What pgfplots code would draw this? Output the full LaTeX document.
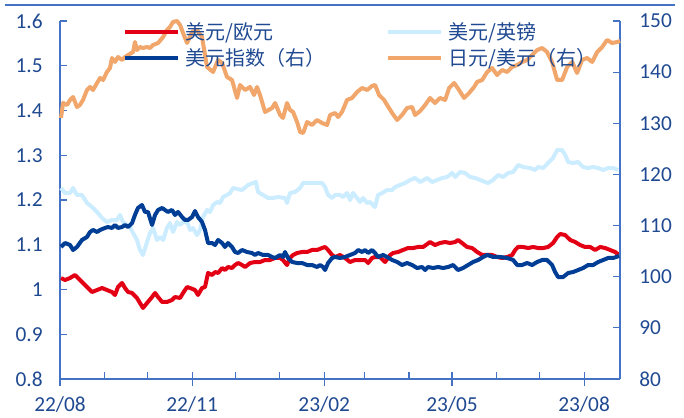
\documentclass[border=0pt]{standalone}
\usepackage{pgfplots}
\pgfplotsset{compat=1.18}
\usepackage{pgfplotstable}
\usepackage{fontspec}
\setmainfont{Carlito}
\newfontfamily\cjk{Noto Sans CJK SC}
\definecolor{axblue}{RGB}{68,114,196}
\definecolor{lblblue}{RGB}{31,73,145}
\definecolor{eurc}{RGB}{228,0,20}
\definecolor{dxyc}{RGB}{0,62,150}
\definecolor{gbpc}{RGB}{204,236,255}
\definecolor{jpyc}{RGB}{241,166,108}

% x = days since 2022-08-01
\pgfplotstableread{
d v
0.7 1.0257
3.5 1.0212
7.0 1.0257
10.4 1.0324
12.5 1.0257
15.3 1.0168
18.8 1.0056
22.3 0.9944
25.8 0.9989
29.3 1.0033
32.7 0.9989
36.2 0.9944
38.3 0.9877
40.4 1.0056
43.2 1.0145
45.3 1.0033
47.4 0.9944
50.2 0.9922
53.6 0.9810
55.7 0.9698
57.8 0.9587
60.6 0.9698
64.1 0.9832
66.2 0.9922
68.3 0.9832
71.1 0.9721
74.5 0.9721
78.0 0.9765
80.1 0.9832
83.6 0.9810
85.7 0.9922
88.5 1.0056
90.6 1.0033
94.0 0.9989
96.1 0.9877
98.9 1.0033
101.0 1.0056
103.1 1.0369
105.9 1.0324
108.0 1.0391
110.1 1.0369
112.9 1.0480
114.9 1.0436
117.0 1.0503
119.8 1.0480
121.9 1.0547
124.0 1.0592
126.8 1.0547
128.9 1.0503
132.4 1.0592
135.8 1.0614
139.3 1.0614
142.8 1.0659
146.3 1.0659
149.8 1.0704
153.3 1.0704
155.3 1.0659
158.1 1.0547
160.2 1.0704
162.3 1.0771
165.1 1.0816
168.6 1.0838
172.1 1.0838
175.5 1.0883
179.0 1.0883
182.5 1.0927
184.6 1.0950
186.7 1.0883
189.5 1.0771
191.6 1.0726
195.0 1.0771
198.5 1.0704
202.0 1.0614
205.5 1.0659
209.0 1.0659
212.5 1.0659
214.6 1.0592
217.3 1.0704
219.4 1.0726
222.9 1.0726
226.4 1.0614
229.9 1.0771
232.0 1.0816
235.4 1.0838
238.9 1.0883
242.4 1.0927
245.9 1.0927
249.4 1.0950
252.9 1.0950
257.7 1.1061
261.2 1.0994
264.7 1.1039
268.2 1.1061
271.7 1.1039
275.2 1.1061
277.2 1.1106
280.0 1.1039
283.5 1.0950
287.0 1.0927
290.5 1.0838
294.0 1.0771
297.5 1.0771
300.9 1.0771
304.4 1.0726
307.9 1.0704
311.4 1.0726
314.9 1.0771
317.0 1.0883
319.0 1.0950
322.5 1.0950
326.0 1.0927
329.5 1.0950
333.0 1.0927
336.5 1.0927
339.9 1.0950
343.4 1.1039
346.2 1.1173
348.3 1.1240
351.8 1.1218
355.3 1.1106
358.8 1.1061
362.2 1.0994
365.7 1.0950
369.2 1.0950
372.7 1.0883
376.2 1.0950
379.7 1.0927
383.1 1.0883
386.6 1.0838
389.4 1.0771
}\eur

\pgfplotstableread{
d v
0.7 1.2268
3.5 1.2156
7.0 1.2156
9.1 1.2268
11.8 1.2112
15.3 1.2112
18.8 1.1933
22.3 1.1844
25.8 1.1732
29.3 1.1598
32.7 1.1508
36.2 1.1553
39.7 1.1553
41.8 1.1665
43.9 1.1508
46.7 1.1441
48.8 1.1397
50.9 1.1263
53.6 1.1106
55.7 1.0883
57.8 1.0771
60.6 1.1061
62.7 1.1263
64.8 1.1374
67.6 1.1106
69.7 1.1173
71.8 1.1106
74.5 1.1374
76.6 1.1486
78.7 1.1285
81.5 1.1508
83.6 1.1441
85.7 1.1508
88.5 1.1508
90.6 1.1330
92.6 1.1374
95.4 1.1218
97.5 1.1330
99.6 1.1620
102.4 1.1777
104.5 1.1732
106.6 1.1888
109.4 1.1955
111.5 1.1933
113.5 1.2067
116.3 1.2112
118.4 1.2156
120.5 1.2268
123.3 1.2246
126.8 1.2223
131.0 1.2335
134.5 1.2380
136.5 1.2402
137.9 1.2179
141.4 1.2112
144.9 1.2045
148.4 1.2045
151.9 1.2067
156.7 1.2045
158.1 1.1933
160.2 1.2156
163.7 1.2179
167.2 1.2268
169.3 1.2380
172.8 1.2380
177.6 1.2380
182.5 1.2380
184.6 1.2290
186.7 1.2112
189.5 1.2045
191.6 1.2112
195.0 1.2112
197.1 1.2067
199.9 1.2156
202.0 1.2000
204.1 1.2156
206.9 1.2045
209.0 1.1955
211.1 1.2045
213.9 1.1933
215.9 1.1955
219.4 1.1844
221.5 1.2112
224.3 1.2156
227.8 1.2223
231.3 1.2223
233.4 1.2290
236.8 1.2335
240.3 1.2380
243.8 1.2447
247.3 1.2492
250.8 1.2402
255.7 1.2492
259.1 1.2402
262.6 1.2447
266.1 1.2492
269.6 1.2514
273.1 1.2603
275.2 1.2514
278.6 1.2626
282.1 1.2603
285.6 1.2514
289.1 1.2492
292.6 1.2447
296.1 1.2402
298.1 1.2380
301.6 1.2447
305.1 1.2559
308.6 1.2514
312.1 1.2603
315.6 1.2626
319.0 1.2782
322.5 1.2737
327.4 1.2715
330.9 1.2670
333.0 1.2737
336.5 1.2715
339.9 1.2827
343.4 1.2939
346.2 1.3117
349.7 1.3117
351.8 1.3006
353.9 1.2849
357.4 1.2827
360.8 1.2849
364.3 1.2737
367.8 1.2715
371.3 1.2737
374.8 1.2715
378.3 1.2670
381.7 1.2715
385.2 1.2715
388.7 1.2670
}\gbp

\pgfplotstableread{
d v
0.7 105.81
3.5 106.59
7.0 106.20
9.1 105.22
11.8 105.81
15.3 107.18
18.8 107.77
20.9 108.74
23.0 109.14
25.8 108.74
27.9 109.14
31.3 109.53
33.4 109.72
36.2 109.53
38.3 110.11
40.4 109.53
43.2 109.72
45.3 110.11
47.4 109.72
50.2 110.50
52.2 112.07
54.3 113.44
57.1 114.02
59.2 112.66
61.3 112.66
64.1 110.11
66.2 112.07
68.3 113.05
71.1 113.44
73.1 113.05
75.2 112.66
78.0 113.05
80.1 112.07
82.2 112.66
85.0 111.68
87.1 111.09
89.2 111.09
92.0 111.68
94.0 112.85
96.1 111.68
98.9 110.70
101.0 109.14
103.1 106.59
105.9 106.59
108.0 106.20
110.1 107.18
112.9 106.59
114.9 105.81
117.0 106.59
119.8 105.81
121.9 104.83
124.0 104.64
126.8 105.22
130.3 104.83
133.7 104.64
135.8 104.25
137.9 104.64
141.4 104.25
144.9 104.25
147.7 103.86
149.8 103.66
153.3 104.25
155.3 103.86
156.7 104.83
158.8 103.66
161.6 102.88
165.1 102.68
168.6 102.68
172.1 102.29
175.5 102.29
179.0 101.90
181.1 102.29
183.2 101.90
184.6 101.31
186.7 102.68
189.5 103.66
191.6 103.86
195.0 103.66
198.5 103.86
202.0 104.25
205.5 104.64
207.6 105.22
210.4 104.83
212.5 105.22
214.6 104.64
217.3 105.22
219.4 104.64
221.5 103.86
225.0 104.25
227.8 103.86
231.3 103.27
234.8 102.88
238.2 102.29
241.7 102.68
245.2 102.29
248.7 101.70
252.2 101.90
254.3 101.31
256.3 101.90
259.8 101.70
263.3 101.90
266.8 101.70
270.3 101.90
273.8 102.29
277.2 101.31
280.7 101.70
284.2 102.29
287.7 102.88
291.2 103.27
294.7 103.86
297.5 104.25
301.6 103.86
306.5 103.86
311.4 103.66
315.6 103.27
318.4 102.29
321.8 102.29
325.3 102.68
328.8 102.29
332.3 102.88
335.8 103.27
339.2 103.27
342.7 102.29
344.8 100.92
346.9 99.94
350.4 99.94
353.9 100.73
357.4 100.92
360.8 101.31
364.3 101.70
367.8 102.29
371.3 102.29
374.8 102.88
378.3 103.27
381.7 103.66
385.2 103.66
389.4 104.05
}\dxy

\pgfplotstableread{
d v
0.7 131.04
2.1 133.97
4.9 133.58
7.0 134.56
9.1 135.14
11.8 133.19
13.9 133.58
16.0 134.56
18.8 136.51
20.9 137.10
23.0 136.51
25.8 137.88
27.9 138.86
30.0 138.47
32.7 140.03
34.8 140.81
36.2 142.77
38.3 141.99
40.4 142.96
43.2 142.38
45.3 142.96
47.4 143.35
50.9 143.94
52.2 145.90
53.6 144.33
55.7 144.92
57.8 144.72
60.6 144.92
62.7 144.72
64.8 145.31
68.3 145.70
71.8 146.87
74.5 148.24
76.6 148.83
78.7 149.81
81.5 150.00
83.6 149.22
85.7 147.66
88.5 145.70
92.0 147.85
95.4 148.24
98.9 146.87
102.4 141.01
106.6 140.03
110.1 142.38
112.9 141.79
116.3 139.05
119.8 138.47
123.3 134.95
125.4 137.49
128.9 136.51
132.4 137.10
135.1 135.53
137.2 137.10
139.3 135.53
142.8 132.21
147.7 132.99
149.8 133.97
153.3 131.62
155.3 131.04
158.1 133.97
160.2 132.60
162.3 132.21
165.1 130.25
167.2 128.30
169.3 128.10
172.1 130.25
175.5 129.67
179.0 130.64
182.5 130.06
186.0 129.67
188.1 131.62
191.6 132.01
193.7 131.23
196.4 132.21
199.9 134.56
203.4 134.95
206.9 136.12
210.4 136.90
213.9 136.51
217.3 137.29
219.4 137.49
222.2 135.53
225.7 134.56
227.8 133.58
231.3 132.01
234.8 130.64
238.2 131.62
241.7 132.99
245.2 133.19
247.3 131.62
250.8 132.40
254.3 133.58
257.7 134.95
261.2 133.97
264.7 134.95
268.2 134.56
271.0 136.90
274.5 137.88
277.9 136.51
281.4 134.95
284.9 135.92
288.4 137.10
290.5 138.08
294.0 138.47
297.5 140.03
300.9 140.81
304.4 139.44
307.9 140.42
311.4 140.03
314.9 141.01
318.4 141.40
321.8 141.99
325.3 142.38
328.8 143.35
332.3 144.33
335.8 144.72
339.2 143.94
342.7 141.99
346.2 138.47
349.7 138.47
353.2 141.01
356.7 141.99
360.1 139.84
363.6 142.38
367.1 142.77
370.6 141.99
374.1 143.94
377.6 144.92
381.0 146.29
384.5 145.70
388.0 145.90
390.1 146.09
}\jpy

\pgfplotsset{
  common/.style={
    at={(0,0)}, anchor=south west, scale only axis,
    width=420pt, height=268.5pt, xmin=0, xmax=390, clip=false,
    axis line style={axblue, line width=1pt, -},
    every tick/.style={axblue, line width=0.9pt},
    tick align=inside, major tick length=5pt, minor tick length=5pt,
    ticklabel style={font=\fontsize{16}{18}\selectfont, text=lblblue},
    /pgf/number format/assume math mode=true,
  },
  ser/.style={line width=3pt, line join=round, no markers},
}

\begin{document}
\begin{tikzpicture}
\path[use as bounding box] (-45pt,-28.5pt) rectangle (468pt,284.25pt);
\draw[axblue, line width=1pt] (-41.25pt,280.5pt) -- (461.25pt,280.5pt);

\begin{axis}[common,
  ymin=0.8, ymax=1.6,
  axis x line*=bottom, axis y line*=left,
  ytick={0.8,0.9,1,1.1,1.2,1.3,1.4,1.5,1.6},
  xtick={0,92,184,273,365},
  xticklabels={22/08,22/11,23/02,23/05,23/08},
  minor xtick={31,61,122,153,212,243,304,334},
  yticklabel style={xshift=-9.5pt},
  xticklabel style={yshift=-9.5pt},
]
\addplot[ser, gbpc] table[x=d, y=v] {\gbp};
\addplot[ser, eurc] table[x=d, y=v] {\eur};
\end{axis}

\begin{axis}[common,
  ymin=80, ymax=150,
  axis y line*=right, axis x line=none,
  ytick={80,90,100,110,120,130,140,150},
  yticklabel style={xshift=11pt},
  legend columns=2,
  legend cell align=left,
  legend image code/.code={\draw[#1, line width=3pt] (0pt,0pt) -- (40pt,0pt);},
  legend style={draw=none, fill=none, inner sep=0pt, outer sep=0pt,
    at={(0.1125,1.0)}, anchor=north west, yshift=-0.5pt, row sep=4.1pt,
    nodes={inner sep=1pt, text height=12.4pt, text depth=1pt,
      font=\cjk\fontsize{15}{16}\selectfont, text=lblblue},
    /tikz/every odd column/.append style={column sep=3pt},
    /tikz/every even column/.append style={column sep=44pt}},
]
\addlegendimage{ser, eurc}
\addlegendentry{美元/欧元}
\addlegendimage{ser, gbpc}
\addlegendentry{美元/英镑}
\addplot[ser, dxyc] table[x=d, y=v] {\dxy};
\addlegendentry{美元指数（右）}
\addplot[ser, jpyc] table[x=d, y=v] {\jpy};
\addlegendentry{日元/美元（右）}
\end{axis}

\begin{axis}[common,
  ymin=0, ymax=1,
  axis y line=none, axis x line*=bottom,
  tick align=outside,
  xtick={0,92,184,273,365}, xticklabels={},
]
\end{axis}
\end{tikzpicture}
\end{document}
